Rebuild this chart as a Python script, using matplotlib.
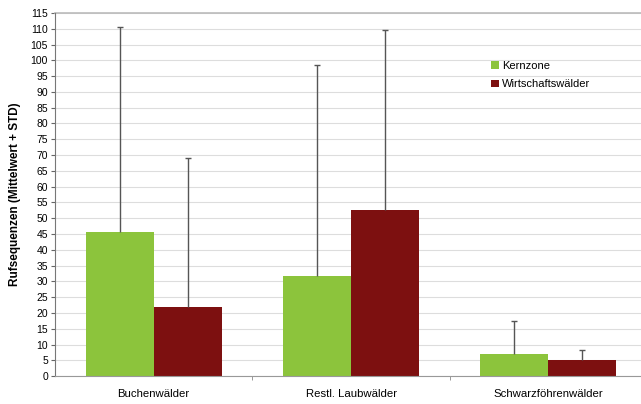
import matplotlib.pyplot as plt
import numpy as np

plt.rcParams['font.family'] = ['Liberation Sans', 'DejaVu Sans']

categories = ["Buchenwälder", "Restl. Laubwälder", "Schwarzföhrenwälder"]
series = ["Kernzone", "Wirtschaftswälder"]
kern_mean = [45.6, 31.7, 7.0]
kern_std = [64.9, 66.8, 10.4]
wirt_mean = [21.9, 52.6, 5.1]
wirt_std = [47.1, 57.0, 3.2]
colors = ["#8cc43c", "#7d1010"]

fig = plt.figure(figsize=(6.41, 4.04), dpi=100)
ax = fig.add_axes([0.0858, 0.069, 0.9236, 0.899])

x = np.arange(len(categories))
w = 0.345
for off, mean, std, col, lab in [(-w / 2, kern_mean, kern_std, colors[0], series[0]),
                                 (w / 2, wirt_mean, wirt_std, colors[1], series[1])]:
    xs = x + off
    ax.bar(xs, mean, w, color=col, label=lab, zorder=2)
    tops = np.array(mean) + np.array(std)
    # only the upper half of the error bar, as in the original
    ax.vlines(xs, mean, tops, color="#555555", linewidth=1.0, zorder=3)
    ax.plot(xs, tops, linestyle="none", marker="_", markersize=5,
            markeredgewidth=1.0, color="#555555", zorder=3)

ax.set_xlim(-0.5, 2.5)
ax.set_ylim(0, 115)
ax.set_yticks(np.arange(0, 116, 5))
ax.set_xticks(x)
ax.set_xticklabels(categories, fontsize=8.2)
ax.set_xticks([0.5, 1.5], minor=True)
ax.tick_params(axis="x", which="major", length=0, pad=9)
ax.tick_params(axis="x", which="minor", length=3, color="#888888")
ax.tick_params(axis="y", labelsize=7.5, length=3, pad=2, color="#666666")
ax.grid(axis="y", color="#dddddd", linewidth=0.8, zorder=0)
ax.set_axisbelow(True)
for s in ["top", "right"]:
    ax.spines[s].set_visible(False)
ax.spines["left"].set_color("#777777")
ax.spines["bottom"].set_color("#999999")
ax.axhline(115, color="#bbbbbb", linewidth=1.2, zorder=1, clip_on=False)

ax.set_ylabel("Rufsequenzen (Mittelwert + STD)", fontsize=8.5, fontweight="bold", labelpad=7)

ax.legend(loc="upper left", bbox_to_anchor=(0.72, 0.895), frameon=False,
          fontsize=8, handlelength=0.7, handleheight=0.7, handletextpad=0.3,
          labelspacing=0.75)

fig.savefig("out.png", dpi=100)
